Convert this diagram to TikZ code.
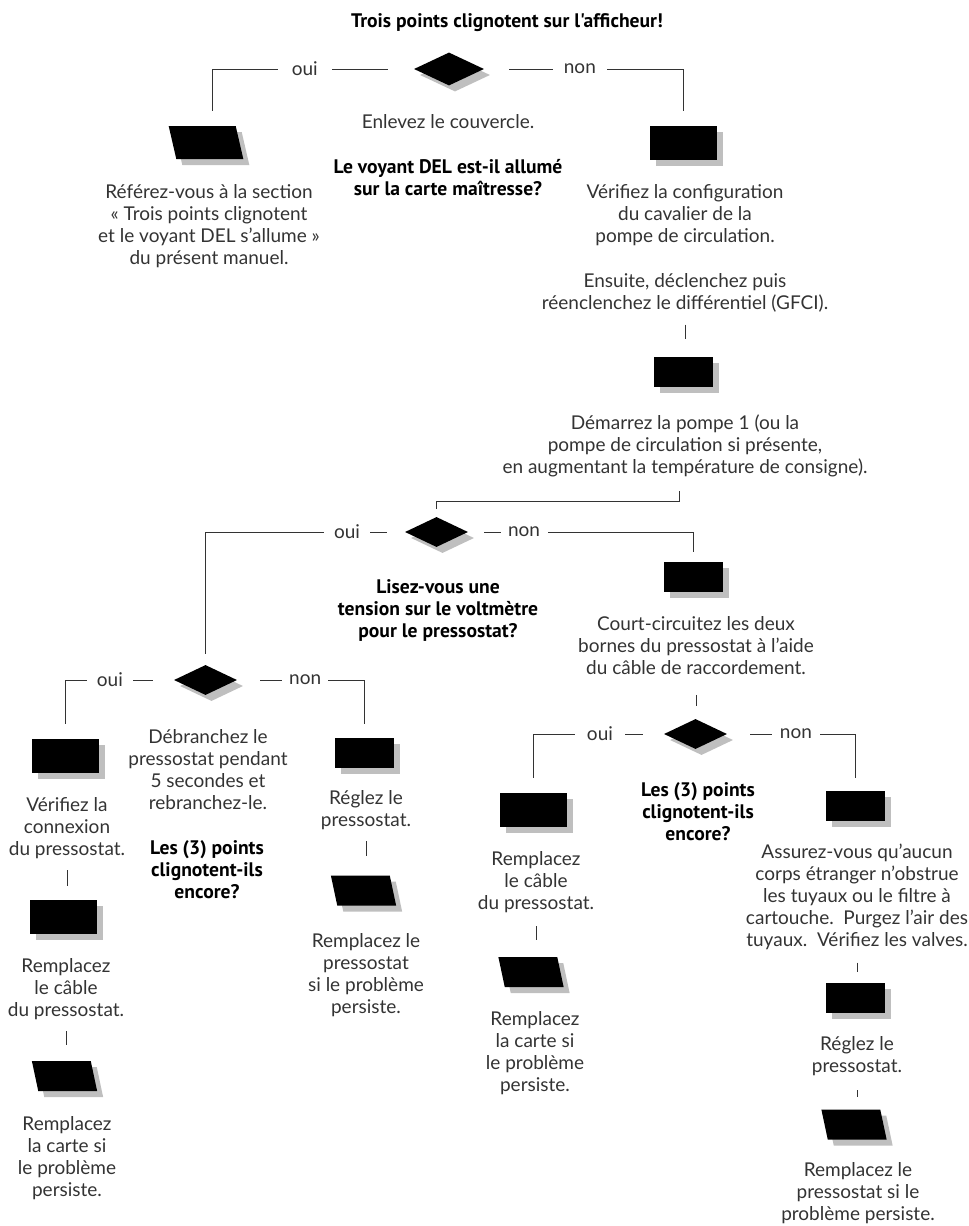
\documentclass[tikz,border=0pt]{standalone}
\usepackage{fontspec}
\setmainfont{Lato}
\newfontfamily\qfont{PT Sans}
\usetikzlibrary{shapes.geometric,shadows}

\begin{document}
\begin{tikzpicture}[x=1pt,y=-1pt,
	txt/.style={align=center,inner sep=0pt,text=black!80,font=\fontsize{19}{22}\selectfont},
	quest/.style={align=center,inner sep=0pt,font=\qfont\bfseries\fontsize{19.6}{22}\selectfont},
	shadowed/.style={drop shadow={shadow xshift=6pt,shadow yshift=-6pt,opacity=1,fill=black!25}},
	bigbox/.style={rectangle,fill=black,inner sep=0pt,minimum width=67pt,minimum height=34pt,shadowed},
	smallbox/.style={rectangle,fill=black,inner sep=0pt,minimum width=59pt,minimum height=30pt,shadowed},
	bigdec/.style={diamond,fill=black,inner sep=0pt,minimum width=70pt,minimum height=33pt,shadowed},
	decision/.style={diamond,fill=black,inner sep=0pt,minimum width=63pt,minimum height=30pt,shadowed},
	bigslant/.style={trapezium,trapezium left angle=103,trapezium right angle=77,fill=black,inner sep=0pt,
		text width=59.4pt,text height=33pt,text depth=0pt,shadowed},
	slant/.style={trapezium,trapezium left angle=102,trapezium right angle=78,fill=black,inner sep=0pt,
		text width=52.5pt,text height=30pt,text depth=0pt,shadowed},
	link/.style={draw=black!80,line width=0.9pt},
	lbl/.style={fill=white,inner ysep=1pt,text=black!80,font=\fontsize{19}{22}\selectfont}]
	\useasboundingbox (0,0) rectangle (969,1226);

	% first question
	\node[quest] (titre) at (507,23) {Trois points clignotent sur l'afficheur!};
	\node[bigdec] (d1) at (449,69) {};
	\node[txt] (couv) at (448,122) {Enlevez le couvercle.};
	\node[quest] (q1) at (448,178) {Le voyant DEL est-il allumé\\sur la carte maîtresse?};
	\node[bigslant] (p1) at (206,142.5) {};
	\node[txt] (t1) at (209,226) {Référez-vous à la section\\« Trois points clignotent\\et le voyant DEL s'allume »\\du présent manuel.};
	\node[bigbox] (r1) at (683.5,143) {};
	\node[txt] (t2) at (685,215) {Vérifiez la configuration\\du cavalier de la\\pompe de circulation.};
	\node[txt] (t3) at (685,293) {Ensuite, déclenchez puis\\réenclenchez le différentiel (GFCI).};
	\node[smallbox] (r2) at (683.5,372) {};
	\node[txt] (t4) at (685,446) {Démarrez la pompe 1 (ou la\\pompe de circulation si présente,\\en augmentant la température de consigne).};

	% voltmeter
	\node[decision] (d2) at (436.5,532) {};
	\node[quest] (q2) at (438,610) {Lisez-vous une\\tension sur le voltmètre\\pour le pressostat?};
	\node[smallbox] (r3) at (693.5,577) {};
	\node[txt] (t5) at (696,646) {Court-circuitez les deux\\bornes du pressostat à l'aide\\du câble de raccordement.};
	\node[decision] (d4) at (695.5,734) {};
	\node[quest] (q4) at (698,812) {Les (3) points\\clignotent-ils\\encore?};
	\node[bigbox] (r4) at (533.5,810) {};
	\node[txt] (t6) at (536,882) {Remplacez\\le câble\\du pressostat.};
	\node[slant] (p4) at (531,972) {};
	\node[txt] (t7) at (535,1053) {Remplacez\\la carte si\\le problème\\persiste.};
	\node[smallbox] (r5) at (855.5,806) {};
	\node[txt] (t8) at (857,897) {Assurez-vous qu'aucun\\corps étranger n'obstrue\\les tuyaux ou le filtre à\\cartouche.\ \ Purgez l'air des\\tuyaux.\ \ Vérifiez les valves.};
	\node[smallbox] (r6) at (855.5,998) {};
	\node[txt] (t9) at (857,1056) {Réglez le\\pressostat.};
	\node[slant] (p6) at (854,1124.5) {};
	\node[txt] (t10) at (858,1193) {Remplacez le\\pressostat si le\\problème persiste.};

	% unplug the switch
	\node[decision] (d3) at (205.5,680) {};
	\node[txt] (t11) at (208,770) {Débranchez le\\pressostat pendant\\5 secondes et\\rebranchez-le.};
	\node[quest] (q3) at (207,870) {Les (3) points\\clignotent-ils\\encore?};
	\node[bigbox] (r7) at (65.5,756) {};
	\node[txt] (t12) at (67,828) {Vérifiez la\\connexion\\du pressostat.};
	\node[bigbox] (r9) at (63.5,917) {};
	\node[txt] (t13) at (66,989) {Remplacez\\le câble\\du pressostat.};
	\node[slant] (p9) at (64.5,1076) {};
	\node[txt] (t14) at (67,1158) {Remplacez\\la carte si\\le problème\\persiste.};
	\node[smallbox] (r8) at (364.5,753) {};
	\node[txt] (t15) at (366,810) {Réglez le\\pressostat.};
	\node[slant] (p8) at (363.5,890.5) {};
	\node[txt] (t16) at (366,975) {Remplacez le\\pressostat\\si le problème\\persiste.};

	% branches
	\draw[link,shorten <=26pt,shorten >=15pt] (d1.west) -| ([xshift=6pt]p1.north) node[lbl,inner xsep=14pt,pos=.27] {oui};
	\draw[link,shorten <=25pt,shorten >=15pt] (d1.east) -| (r1.north) node[lbl,inner xsep=11pt,pos=.24] {non};
	\draw[link,shorten <=18pt,shorten >=11pt] (d2.west) -| (d3.north) node[lbl,inner xsep=10pt,pos=.145] {oui};
	\draw[link,shorten <=16pt,shorten >=10pt] (d2.east) -| (r3.north) node[lbl,inner xsep=7.5pt,pos=.124] {non};
	\draw[link,shorten <=21pt,shorten >=15pt] (d3.west) -| (r7.north) node[lbl,inner xsep=10pt,pos=.295] {oui};
	\draw[link,shorten <=23pt,shorten >=14pt] (d3.east) -| (r8.north) node[lbl,inner xsep=7pt,pos=.267] {non};
	\draw[link,shorten <=21pt,shorten >=15pt] (d4.west) -| (r4.north) node[lbl,inner xsep=12pt,pos=.245] {oui};
	\draw[link,shorten <=23pt,shorten >=13pt] (d4.east) -| (r5.north) node[lbl,inner xsep=8pt,pos=.268] {non};

	% ticks
	\draw[link,shorten <=14pt,shorten >=8pt] ([xshift=-6pt]t4.south) -- ++(0,24) -| (d2.north);
	\draw[link,shorten <=12pt,shorten >=18pt] (t3.south) -- (t3.south |- r2.north);
	\draw[link,shorten <=19.5pt,shorten >=13pt] (t5.south) -- (t5.south |- d4.north);
	\draw[link,shorten <=13.5pt,shorten >=17pt] (t6.south) -- (t6.south |- p4.north);
	\draw[link,shorten <=12.5pt,shorten >=11pt] (t8.south) -- (t8.south |- r6.north);
	\draw[link,shorten <=14.5pt,shorten >=12pt] (t9.south) -- (t9.south |- p6.north);
	\draw[link,shorten <=11.5pt,shorten >=14pt] (t12.south) -- (t12.south |- r9.north);
	\draw[link,shorten <=11.5pt,shorten >=16pt] (t13.south) -- (t13.south |- p9.north);
	\draw[link,shorten <=11.5pt,shorten >=19pt] (t15.south) -- (t15.south |- p8.north);
\end{tikzpicture}
\end{document}
